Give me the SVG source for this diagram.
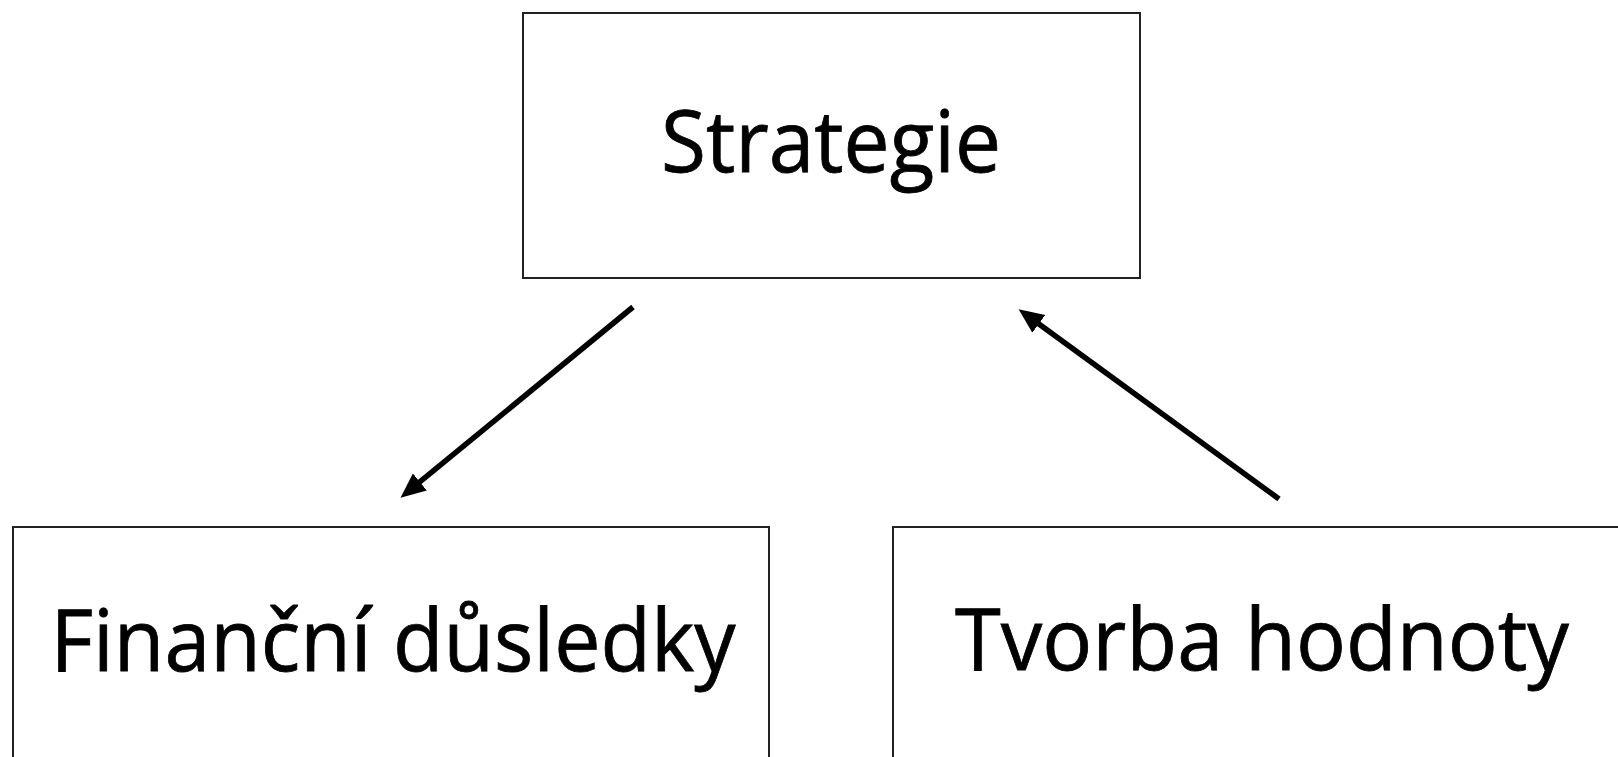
<svg xmlns="http://www.w3.org/2000/svg" width="1618" height="757" viewBox="0 0 1618 757">
<style>
.box{fill:#fff;stroke:#222;stroke-width:2}
.lbl{font-family:"Open Sans","Liberation Sans",sans-serif;font-size:86px;fill:#000;text-anchor:middle;stroke:#000;stroke-width:0.8}
.conn{stroke:#000;stroke-width:5.5;fill:none}
</style>
<defs>
<marker id="ah" markerUnits="userSpaceOnUse" markerWidth="26" markerHeight="24" refX="2" refY="0" orient="auto" viewBox="0 -12 26 24">
<path d="M0,-11 L25,0 L0,11 Z" fill="#000"/>
</marker>
</defs>
<rect width="1618" height="757" fill="#fff"/>
<g id="node-strategie">
<rect class="box" x="523" y="13" width="617" height="265"/>
<text class="lbl" x="831" y="172" textLength="340" lengthAdjust="spacingAndGlyphs">Strategie</text>
</g>
<g id="node-financni">
<rect class="box" x="13" y="527" width="756" height="260"/>
<text class="lbl" x="393" y="671" textLength="685" lengthAdjust="spacingAndGlyphs">Finanční důsledky</text>
</g>
<g id="node-tvorba">
<rect class="box" x="893" y="527" width="760" height="260"/>
<text class="lbl" x="1262" y="670" textLength="614" lengthAdjust="spacingAndGlyphs">Tvorba hodnoty</text>
</g>
<g id="connectors">
<line class="conn" x1="633" y1="307" x2="418.3" y2="483.2" marker-end="url(#ah)"/>
<line class="conn" x1="1279" y1="499" x2="1037.2" y2="322.7" marker-end="url(#ah)"/>
</g>
</svg>
